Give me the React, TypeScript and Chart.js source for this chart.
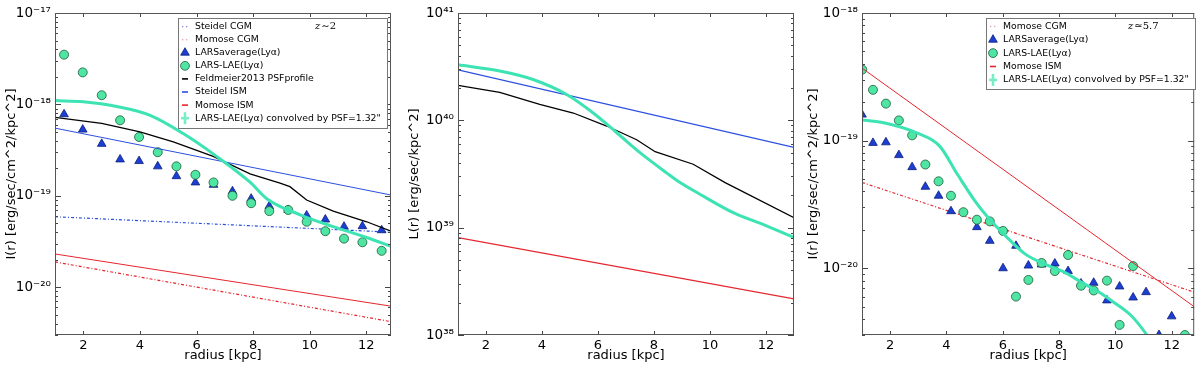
import React, { useEffect, useRef } from 'react';
import { Chart, registerables } from 'chart.js';

Chart.register(...registerables);

// ---------------- axis ticks ----------------
const radiusTicks = [2, 4, 6, 8, 10, 12];
const p1Decades = [1e-20, 1e-19, 1e-18, 1e-17];
const p2Decades = [1e38, 1e39, 1e40, 1e41];
const p3Decades = [1e-20, 1e-19, 1e-18];

// ---------------- labels ----------------
const L_STEIDEL_CGM = 'Steidel CGM';
const L_MOMOSE_CGM = 'Momose CGM';
const L_LARS_AVG = 'LARSaverage(Lyα)';
const L_LARS_LAE = 'LARS-LAE(Lyα)';
const L_FELD = 'Feldmeier2013 PSFprofile';
const L_STEIDEL_ISM = 'Steidel ISM';
const L_MOMOSE_ISM = 'Momose ISM';
const L_CONV = 'LARS-LAE(Lyα) convolved by PSF=1.32"';

// ---------------- panel 1 (z~2) ----------------
const p1SampleR = [1.32, 1.98, 2.65, 3.3, 3.97, 4.63, 5.29, 5.96, 6.6, 7.27, 7.93, 8.57, 9.24, 9.89, 10.55, 11.21, 11.86, 12.54];
const p1LarsAverage = [7.8e-19, 5.3e-19, 3.7e-19, 2.5e-19, 2.4e-19, 2.1e-19, 1.64e-19, 1.4e-19, 1.32e-19, 1.12e-19, 9.3e-20, 7.7e-20, 7.0e-20, 6.1e-20, 5.5e-20, 4.6e-20, 4.65e-20, 4.2e-20];
const p1LarsLae = [3.5e-18, 2.24e-18, 1.26e-18, 6.7e-19, 4.4e-19, 3.0e-19, 2.1e-19, 1.7e-19, 1.4e-19, 1.0e-19, 8.3e-20, 6.8e-20, 7.0e-20, 5.2e-20, 4.1e-20, 3.4e-20, 3.1e-20, 2.5e-20];
const p1ConvR = [1, 2, 3.18, 4.36, 5.53, 6.71, 7.89, 8.48, 9.66, 10.83, 12.01, 12.87];
const p1Conv = [1.1e-18, 1.07e-18, 9.5e-19, 7.6e-19, 4.8e-19, 2.7e-19, 1.41e-19, 9.3e-20, 6.2e-20, 4.6e-20, 3.5e-20, 2.8e-20];
const p1FeldR = [1, 2.65, 4.0, 5.18, 6.59, 7.89, 8.95, 9.3, 9.89, 10.83, 12.01, 12.87];
const p1Feld = [7.2e-19, 6.2e-19, 5.0e-19, 3.9e-19, 2.7e-19, 1.74e-19, 1.38e-19, 1.26e-19, 9.0e-20, 6.8e-20, 5.2e-20, 4.1e-20];
const p1ModelR = [1, 12.87];
const p1SteidelIsm = [5.5e-19, 1.02e-19];
const p1SteidelCgm = [5.9e-20, 4.0e-20];
const p1MomoseIsm = [2.31e-20, 6.2e-21];
const p1MomoseCgm = [1.89e-20, 4.2e-21];

// ---------------- panel 2 (luminosity) ----------------
const p2ConvR = [1, 2.49, 3.68, 4.88, 5.83, 6.66, 7.5, 8.45, 8.93, 9.64, 10.83, 12.02, 13];
const p2Conv = [3.29e40, 2.88e40, 2.4e40, 1.74e40, 1.17e40, 7.7e39, 5.0e39, 3.24e39, 2.63e39, 2.05e39, 1.38e39, 1.04e39, 8.1e38];
const p2FeldR = [1, 2.49, 3.92, 5.12, 6.31, 7.38, 8.04, 9.4, 10.54, 13];
const p2Feld = [2.12e40, 1.82e40, 1.41e40, 1.17e40, 8.85e39, 6.6e39, 5.1e39, 3.9e39, 2.63e39, 1.24e39];
const p2ModelR = [1, 13];
const p2SteidelIsm = [2.95e40, 5.6e39];
const p2MomoseIsm = [8.07e38, 2.17e38];

// ---------------- panel 3 (z≃5.7) ----------------
const p3LaeR = [1.01, 1.39, 1.85, 2.31, 2.78, 3.25, 3.72, 4.16, 4.6, 5.08, 5.54, 6.01, 6.47, 6.91, 7.38, 7.85, 8.32, 8.78, 9.23, 9.7, 10.15, 10.63, 12.47];
const p3LarsLae = [3.6e-19, 2.5e-19, 1.95e-19, 1.44e-19, 1.1e-19, 6.5e-20, 4.8e-20, 3.7e-20, 2.75e-20, 2.4e-20, 2.33e-20, 1.96e-20, 6.0e-21, 8.1e-21, 1.1e-20, 9.5e-21, 1.27e-20, 7.3e-21, 6.7e-21, 8.0e-21, 3.6e-21, 1.04e-20, 3.0e-21];
const p3AvgR = [1.0, 1.39, 1.85, 2.31, 2.78, 3.25, 3.72, 4.16, 5.08, 5.54, 6.01, 6.47, 6.91, 7.38, 7.85, 8.32, 8.78, 9.23, 9.7, 10.15, 10.63, 11.09, 11.55, 12.0];
const p3LarsAverage = [1.6e-19, 9.6e-20, 9.7e-20, 7.7e-20, 6.2e-20, 4.35e-20, 3.7e-20, 2.8e-20, 2.1e-20, 1.64e-20, 1.0e-20, 1.5e-20, 1.05e-20, 1.07e-20, 1.09e-20, 9.5e-21, 7.6e-21, 7.7e-21, 5.6e-21, 7.2e-21, 5.9e-21, 6.5e-21, 3.0e-21, 4.2e-21];
const p3ConvR = [1.0, 1.77, 2.94, 3.75, 4.4, 5.04, 5.51, 6.09, 6.8, 7.62, 8.2, 8.78, 9.37, 9.95, 10.54, 11.12, 11.3];
const p3Conv = [1.45e-19, 1.38e-19, 1.15e-19, 9.1e-20, 5.4e-20, 3.3e-20, 2.45e-20, 1.8e-20, 1.29e-20, 1.05e-20, 9.3e-21, 7.8e-21, 6.6e-21, 5.4e-21, 4.3e-21, 3.0e-21, 2.6e-21];
const p3ModelR = [1, 12.8];
const p3MomoseIsm = [3.7e-19, 5.0e-21];
const p3MomoseCgm = [4.7e-20, 6.5e-21];

// ---------------- styles ----------------
const FONT = 'DejaVu Sans';
const BLUE_LINE = '#2b4fe0';
const RED_LINE = '#e5262e';
const GREEN_LINE = '#3de3b2';
const TRI_FILL = '#1c3ed2';
const TRI_EDGE = '#0d1f7a';
const CIRC_FILL = '#4ee6a2';
const CIRC_EDGE = '#1d5a3a';

const SUP: Record<string, string> = { '-': '⁻', '0': '⁰', '1': '¹', '2': '²', '3': '³', '4': '⁴', '5': '⁵', '6': '⁶', '7': '⁷', '8': '⁸', '9': '⁹' };
const pow10 = (v: number) => '10' + String(Math.round(Math.log10(v))).split('').map((c) => SUP[c]).join('');

const pts = (xs: number[], ys: number[]) => xs.map((x, i) => ({ x, y: ys[i] }));

const lineDS = (label: string, xs: number[], ys: number[], color: string, width: number, order: number, dash: number[] = [], smooth = false) => ({
  label, data: pts(xs, ys), showLine: true, borderColor: color, backgroundColor: color, borderWidth: width,
  borderDash: dash, pointRadius: 0, pointHoverRadius: 0, fill: false, clip: 0, order,
  cubicInterpolationMode: smooth ? 'monotone' : 'default', tension: 0,
});
const triDS = (label: string, xs: number[], ys: number[], order: number) => ({
  label, data: pts(xs, ys), showLine: false, pointStyle: 'triangle', pointRadius: 5, pointBackgroundColor: TRI_FILL,
  pointBorderColor: TRI_EDGE, pointBorderWidth: 0.8, backgroundColor: TRI_FILL, borderColor: TRI_EDGE, clip: 0, order,
});
const circDS = (label: string, xs: number[], ys: number[], order: number) => ({
  label, data: pts(xs, ys), showLine: false, pointStyle: 'circle', pointRadius: 4.5, pointBackgroundColor: CIRC_FILL,
  pointBorderColor: CIRC_EDGE, pointBorderWidth: 0.8, backgroundColor: CIRC_FILL, borderColor: CIRC_EDGE, clip: 0, order,
});

const framePlugin = {
  id: 'frame',
  afterDatasetsDraw(chart: any) {
    const { ctx, chartArea: a, scales } = chart;
    const xs = scales.x, ys = scales.y;
    ctx.save();
    ctx.strokeStyle = '#444';
    ctx.lineWidth = 1;
    ctx.beginPath();
    for (const t of radiusTicks) {
      const px = Math.round(xs.getPixelForValue(t)) + 0.5;
      ctx.moveTo(px, a.bottom); ctx.lineTo(px, a.bottom - 4);
      ctx.moveTo(px, a.top); ctx.lineTo(px, a.top + 4);
    }
    const lo = Math.floor(Math.log10(ys.min)), hi = Math.ceil(Math.log10(ys.max));
    for (let e = lo; e <= hi; e++) {
      for (let m = 1; m <= 9; m++) {
        const v = m * Math.pow(10, e);
        if (v < ys.min * 0.999 || v > ys.max * 1.001) continue;
        const py = Math.round(ys.getPixelForValue(v)) + 0.5;
        const L = m === 1 ? 6 : 3;
        ctx.moveTo(a.left, py); ctx.lineTo(a.left + L, py);
        ctx.moveTo(a.right, py); ctx.lineTo(a.right - L, py);
      }
    }
    ctx.stroke();
    ctx.strokeStyle = '#555';
    ctx.strokeRect(a.left + 0.5, a.top + 0.5, a.width - 1, a.height - 1);
    ctx.restore();
  },
};

const boxLegendPlugin = {
  id: 'boxLegend',
  afterDraw(chart: any, _args: any, o: any) {
    if (!o || !o.items) return;
    const { ctx } = chart;
    ctx.save();
    ctx.fillStyle = '#fff';
    ctx.fillRect(o.x, o.y, o.w, o.h);
    ctx.strokeStyle = '#777';
    ctx.lineWidth = 1;
    ctx.strokeRect(o.x + 0.5, o.y + 0.5, o.w, o.h);
    o.items.forEach((it: any, i: number) => {
      const cy = o.y + o.first + i * o.rowH;
      const mx = o.x + 7;
      ctx.setLineDash([]);
      if (it.kind === 'dots') {
        ctx.fillStyle = it.color;
        ctx.fillRect(mx - 3, cy - 0.5, 1.3, 1.3);
        ctx.fillRect(mx + 1, cy - 0.5, 1.3, 1.3);
      } else if (it.kind === 'dash') {
        ctx.strokeStyle = it.color; ctx.lineWidth = 1.6;
        ctx.beginPath(); ctx.moveTo(mx - 3, cy); ctx.lineTo(mx + 3, cy); ctx.stroke();
      } else if (it.kind === 'tri') {
        const r = 5;
        ctx.fillStyle = TRI_FILL; ctx.strokeStyle = TRI_EDGE; ctx.lineWidth = 0.8;
        ctx.beginPath();
        ctx.moveTo(mx, cy - r);
        ctx.lineTo(mx + r * 0.866, cy + r * 0.5);
        ctx.lineTo(mx - r * 0.866, cy + r * 0.5);
        ctx.closePath(); ctx.fill(); ctx.stroke();
      } else if (it.kind === 'circ') {
        ctx.fillStyle = CIRC_FILL; ctx.strokeStyle = CIRC_EDGE; ctx.lineWidth = 0.8;
        ctx.beginPath(); ctx.arc(mx, cy, 4.4, 0, Math.PI * 2); ctx.fill(); ctx.stroke();
      } else if (it.kind === 'err') {
        ctx.strokeStyle = '#78eec4'; ctx.lineWidth = 2.6;
        ctx.beginPath(); ctx.moveTo(mx, cy - 6); ctx.lineTo(mx, cy + 6); ctx.stroke();
        ctx.beginPath(); ctx.moveTo(mx - 4, cy); ctx.lineTo(mx + 4, cy); ctx.stroke();
      }
      ctx.fillStyle = '#000';
      ctx.font = `9.3px "${FONT}"`;
      ctx.textBaseline = 'middle';
      ctx.textAlign = 'left';
      ctx.fillText(it.text, o.x + 17, cy);
    });
    if (o.zRest) {
      ctx.fillStyle = '#000';
      ctx.textBaseline = 'middle';
      ctx.font = 'italic 10px "DejaVu Serif"';
      ctx.fillText('z', o.zX, o.zY);
      const w = ctx.measureText('z').width;
      ctx.font = '10px "DejaVu Serif"';
      ctx.fillText(o.zRest, o.zX + w + 1, o.zY);
    }
    ctx.restore();
  },
};

type Spec = {
  datasets: any[]; xMax: number; yMin: number; yMax: number; yTicks: number[]; yTitle: string;
  leftW: number; rightPad: number; titlePad: number; legend?: any;
};

function buildConfig(s: Spec): any {
  return {
    type: 'scatter',
    data: { datasets: s.datasets },
    options: {
      animation: false,
      responsive: false,
      devicePixelRatio: 1,
      events: [],
      layout: { padding: { top: 13, right: s.rightPad, left: 0, bottom: 0 } },
      plugins: { legend: { display: false }, tooltip: { enabled: false }, boxLegend: s.legend || {} },
      scales: {
        x: {
          type: 'linear', min: 1, max: s.xMax,
          afterBuildTicks: (sc: any) => { sc.ticks = radiusTicks.map((v) => ({ value: v })); },
          afterFit: (sc: any) => { sc.height = 31; },
          grid: { display: false, drawTicks: false }, border: { display: false },
          ticks: { color: '#000', font: { family: FONT, size: 13 }, padding: 3, maxRotation: 0, autoSkip: false },
          title: { display: true, text: 'radius [kpc]', color: '#000', font: { family: FONT, size: 13 }, padding: { top: 0, bottom: 3 } },
        },
        y: {
          type: 'logarithmic', min: s.yMin, max: s.yMax,
          afterBuildTicks: (sc: any) => { sc.ticks = s.yTicks.map((v) => ({ value: v })); },
          afterFit: (sc: any) => { sc.width = s.leftW; },
          grid: { display: false, drawTicks: false }, border: { display: false },
          ticks: { color: '#000', font: { family: FONT, size: 13.5 }, padding: 4, autoSkip: false, callback: (v: any) => pow10(Number(v)) },
          title: { display: true, text: s.yTitle, color: '#000', font: { family: FONT, size: 13 }, padding: { top: s.titlePad, bottom: 0 } },
        },
      },
    },
    plugins: [framePlugin, boxLegendPlugin],
  };
}

const DASHDOT = [3, 2, 1, 2];

const spec1: Spec = {
  datasets: [
    lineDS(L_STEIDEL_CGM, p1ModelR, p1SteidelCgm, BLUE_LINE, 1.2, 8, DASHDOT),
    lineDS(L_MOMOSE_CGM, p1ModelR, p1MomoseCgm, RED_LINE, 1.2, 7, DASHDOT),
    triDS(L_LARS_AVG, p1SampleR, p1LarsAverage, 6),
    circDS(L_LARS_LAE, p1SampleR, p1LarsLae, 5),
    lineDS(L_FELD, p1FeldR, p1Feld, '#000', 1.3, 4),
    lineDS(L_STEIDEL_ISM, p1ModelR, p1SteidelIsm, BLUE_LINE, 1, 3),
    lineDS(L_MOMOSE_ISM, p1ModelR, p1MomoseIsm, RED_LINE, 1, 2),
    lineDS(L_CONV, p1ConvR, p1Conv, GREEN_LINE, 3, 1, [], true),
  ],
  xMax: 12.87, yMin: 3e-21, yMax: 1e-17, yTicks: p1Decades, yTitle: 'I(r) [erg/sec/cm^2/kpc^2]',
  leftW: 55, rightPad: 9, titlePad: 4,
  legend: {
    x: 178, y: 18, w: 209, h: 110, first: 8.5, rowH: 13.1, zX: 315, zY: 26.5, zRest: '∼2',
    items: [
      { text: L_STEIDEL_CGM, kind: 'dots', color: '#8a8ad8' },
      { text: L_MOMOSE_CGM, kind: 'dots', color: '#e8a0a8' },
      { text: L_LARS_AVG, kind: 'tri' },
      { text: L_LARS_LAE, kind: 'circ' },
      { text: L_FELD, kind: 'dash', color: '#000' },
      { text: L_STEIDEL_ISM, kind: 'dash', color: BLUE_LINE },
      { text: L_MOMOSE_ISM, kind: 'dash', color: RED_LINE },
      { text: L_CONV, kind: 'err' },
    ],
  },
};

const spec2: Spec = {
  datasets: [
    lineDS(L_FELD, p2FeldR, p2Feld, '#000', 1.3, 4),
    lineDS(L_STEIDEL_ISM, p2ModelR, p2SteidelIsm, BLUE_LINE, 1.4, 3),
    lineDS(L_MOMOSE_ISM, p2ModelR, p2MomoseIsm, RED_LINE, 1.2, 2),
    lineDS(L_CONV, p2ConvR, p2Conv, GREEN_LINE, 3, 1, [], true),
  ],
  xMax: 13, yMin: 1e38, yMax: 1e41, yTicks: p2Decades, yTitle: 'L(r) [erg/sec/kpc^2]',
  leftW: 58, rightPad: 6, titlePad: 7,
};

const spec3: Spec = {
  datasets: [
    lineDS(L_MOMOSE_CGM, p3ModelR, p3MomoseCgm, RED_LINE, 1.2, 6, DASHDOT),
    triDS(L_LARS_AVG, p3AvgR, p3LarsAverage, 5),
    circDS(L_LARS_LAE, p3LaeR, p3LarsLae, 4),
    lineDS(L_MOMOSE_ISM, p3ModelR, p3MomoseIsm, RED_LINE, 1, 2),
    lineDS(L_CONV, p3ConvR, p3Conv, GREEN_LINE, 3, 1, [], true),
  ],
  xMax: 12.8, yMin: 3e-21, yMax: 1e-18, yTicks: p3Decades, yTitle: 'I(r) [erg/sec/cm^2/kpc^2]',
  leftW: 62, rightPad: 2, titlePad: 6,
  legend: {
    x: 186, y: 18, w: 209, h: 71, first: 8.3, rowH: 13.4, zX: 328, zY: 26.3, zRest: '≃5.7',
    items: [
      { text: L_MOMOSE_CGM, kind: 'dots', color: '#e8a0a8' },
      { text: L_LARS_AVG, kind: 'tri' },
      { text: L_LARS_LAE, kind: 'circ' },
      { text: L_MOMOSE_ISM, kind: 'dash', color: RED_LINE },
      { text: L_CONV, kind: 'err' },
    ],
  },
};

function Panel({ left, spec }: { left: number; spec: Spec }) {
  const ref = useRef<HTMLCanvasElement>(null);
  useEffect(() => {
    const chart = new Chart(ref.current as HTMLCanvasElement, buildConfig(spec));
    return () => chart.destroy();
  }, [spec]);
  return (
    <canvas
      ref={ref}
      width={400}
      height={366}
      style={{ position: 'absolute', left, top: 0, width: 400, height: 366 }}
    />
  );
}

export default function App() {
  return (
    <div style={{ position: 'fixed', left: 0, top: 0, width: 1200, height: 366, background: '#fff', overflow: 'hidden' }}>
      <Panel left={0} spec={spec1} />
      <Panel left={400} spec={spec2} />
      <Panel left={800} spec={spec3} />
    </div>
  );
}
